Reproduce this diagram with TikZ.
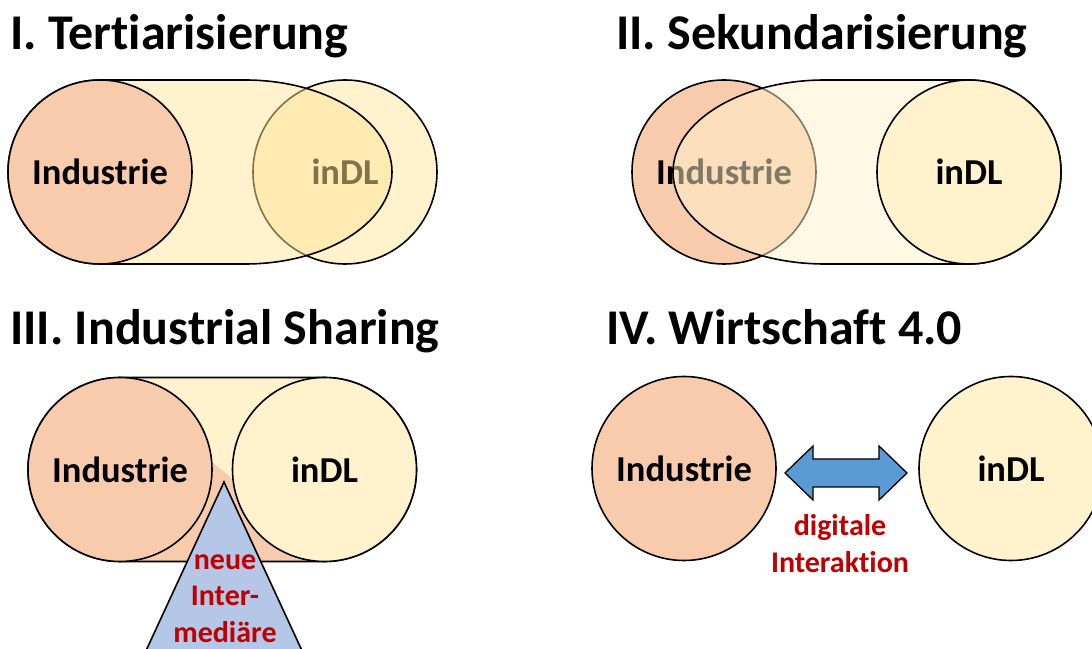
\documentclass[tikz,border=0pt]{standalone}
\usepackage{fontspec}
\setmainfont{Carlito}[Ligatures=NoCommon]
\usetikzlibrary{positioning, calc}
\definecolor{indpeach}{RGB}{248, 203, 173}
\definecolor{dlcream}{RGB}{255, 242, 204}
\definecolor{dlgold}{RGB}{255, 230, 153}
\definecolor{midblue}{RGB}{180, 199, 231}
\definecolor{arrowblue}{RGB}{91, 155, 213}
\definecolor{darkred}{RGB}{192, 0, 0}

\tikzset{
  heading/.style={anchor=base west, inner sep=0pt, font=\fontsize{50}{54}\selectfont\bfseries},
  sector/.style={circle, draw=black, line width=1.6pt, minimum size=184pt,
                 inner sep=0pt, outer sep=0pt, font=\fontsize{36.5}{40}\selectfont\bfseries},
  industrie/.style={sector, fill=indpeach},
  indl/.style={sector, fill=dlcream},
  pill/.style={draw=black, line width=1.6pt},
  note/.style={text=darkred, align=center, inner sep=0pt,
               font=\fontsize{30}{36.5}\selectfont\bfseries},
}

\begin{document}
\begin{tikzpicture}[x=1pt, y=1pt]
  \useasboundingbox (0,0) rectangle (1092,648);
  \clip (0,0) rectangle (1092,648);

  % I. Tertiarisierung
  \node[heading] (t1) at (10,598) {I. Tertiarisierung};
  \node[indl] (dl1) at (345,476) {inDL};
  \draw[pill, fill=dlgold, fill opacity=0.5] (100,568) -- (245,568)
    arc[start angle=90, end angle=-90, x radius=147pt, y radius=92pt]
    -- (100,384) arc[start angle=270, end angle=90, radius=92pt] -- cycle;
  \node[industrie] (ind1) at (100,476) {Industrie};

  % II. Sekundarisierung
  \node[heading] (t2) at (616,598) {II. Sekundarisierung};
  \node[industrie] (ind2) at (724,476) {Industrie};
  \draw[pill, fill=dlcream, fill opacity=0.5] (969,568) -- (825,568)
    arc[start angle=90, end angle=270, x radius=152pt, y radius=92pt]
    -- (969,384) arc[start angle=-90, end angle=90, radius=92pt] -- cycle;
  \node[indl] (dl2) at (969,476) {inDL};

  % III. Industrial Sharing
  \node[heading] (t3) at (10,303) {III. Industrial Sharing};
  \draw[pill, fill=dlcream,
        path picture={\fill[indpeach] (0,362.7) -- (450,-12.3) -- (0,-12.3) -- cycle;}]
    (120,270.5) -- (324.5,270.5) arc[start angle=90, end angle=-90, radius=92pt]
    -- (120,86.5) arc[start angle=270, end angle=90, radius=92pt] -- cycle;
  \node[industrie] (ind3) at (120,178.5) {Industrie};
  \node[indl] (dl3) at (324.5,178.5) {inDL};
  \coordinate (apex) at (224,166);
  \draw[pill, fill=midblue] (apex) -- ++(-86,-186) -- ++(172,0) -- cycle;
  \node[note, anchor=base] (inter3) at (225,6) {neue\\Inter-\\mediäre};

  % IV. Wirtschaft 4.0
  \node[heading] (t4) at (606,303) {IV. Wirtschaft 4.0};
  \node[industrie] (ind4) at (684,179.5) {Industrie};
  \node[indl] (dl4) at (1011,179.5) {inDL};
  \coordinate (tipL) at ($(ind4.east)+(9,-4.5)$);
  \draw[line width=1.3pt, fill=arrowblue] (tipL) -- ++(28,27) -- ++(0,-13)
    -- ++(66,0) -- ++(0,13) -- ++(28,-27) -- ++(-28,-27) -- ++(0,13)
    -- ++(-66,0) -- ++(0,-13) -- cycle;
  \node[note, anchor=base] (dig4) at (840,76) {digitale\\Interaktion};
\end{tikzpicture}
\end{document}
